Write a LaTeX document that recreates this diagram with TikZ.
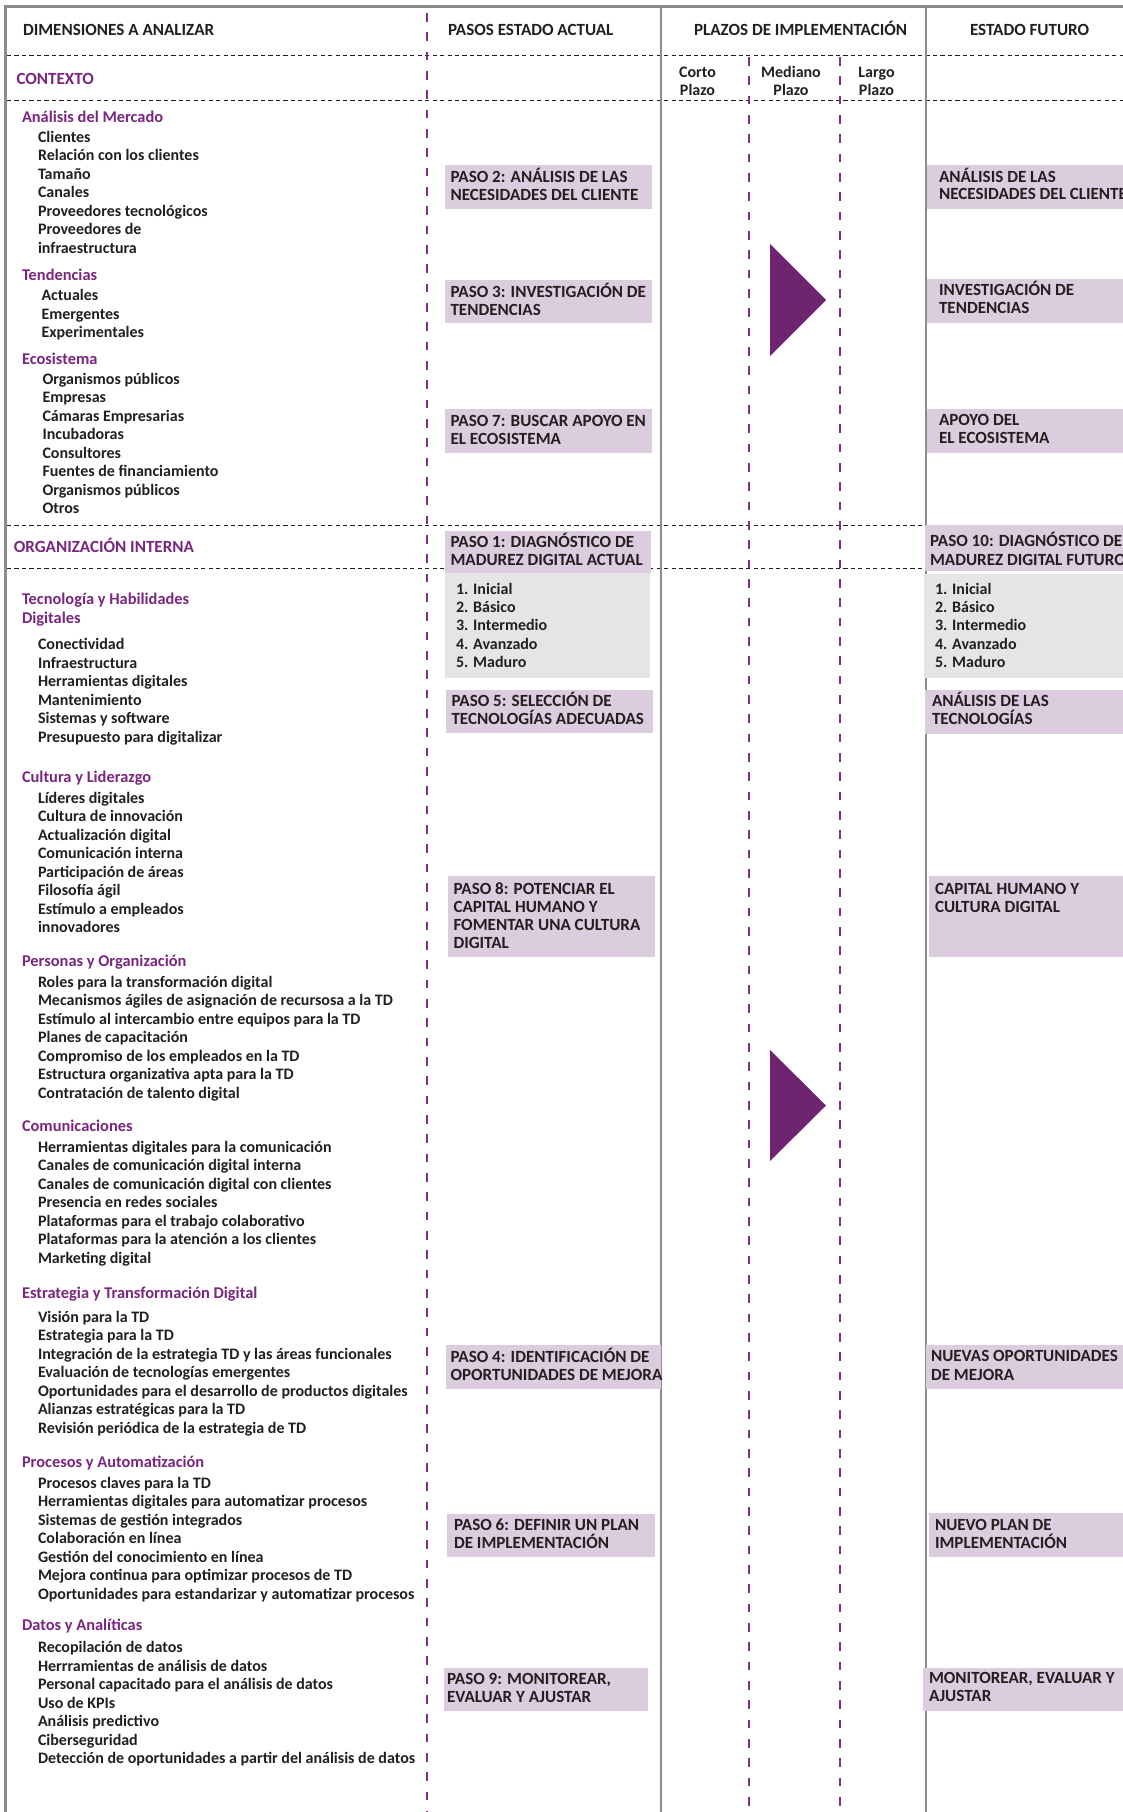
\documentclass[tikz,border=0pt]{standalone}
\usepackage{fontspec}
\setmainfont{Carlito}
\usetikzlibrary{fit}
\definecolor{ink}{RGB}{35,31,32}
\definecolor{purp}{RGB}{122,38,128}
\definecolor{tri}{RGB}{111,36,112}
\definecolor{dpurp}{RGB}{128,48,132}
\definecolor{lilac}{RGB}{220,205,222}
\definecolor{lgray}{RGB}{229,229,229}
\definecolor{framec}{RGB}{140,140,140}
\newcommand\fs{\fontsize{12}{14}\selectfont\bfseries}
\newcommand\fh{\fontsize{12.3}{14}\selectfont\bfseries}
\newcommand\fu{\fontsize{12.8}{14}\selectfont\bfseries}
\begin{document}
\begin{tikzpicture}[x=0.75pt,y=-0.75pt,
  every node/.style={inner sep=0pt, outer sep=0pt},
  tx/.style={anchor=base west, font=\fs, text=ink},
  bt/.style={anchor=base west, font=\fu, text=ink},
  hd/.style={anchor=base west, font=\fh, text=purp},
  hu/.style={anchor=base west, font=\fu, text=purp},
  ctr/.style={anchor=base, font=\fs, text=ink},
  pbox/.style={fill=lilac, draw=none, inner sep=0pt},
  gbox/.style={fill=lgray, draw=none, inner sep=0pt},
  gline/.style={draw=framec, line width=1.5pt},
  fline/.style={draw=framec, line width=2.25pt},
  pdash/.style={draw=dpurp, line width=1.5pt, dash pattern=on 6.6pt off 7.9pt},
  kdash/.style={draw=ink, line width=0.75pt, dash pattern=on 3.2pt off 2.4pt}]
\useasboundingbox (0,0) rectangle (1123,1812);
\clip (0,0) rectangle (1123,1812);
\fill[white] (0,0) rectangle (1123,1812);
% horizontal dashed lines
\draw[kdash] (7,55.5) -- (1123,55.5);
\draw[kdash] (7,100.5) -- (1123,100.5);
\draw[kdash] (7,525.5) -- (925,525.5);
\draw[kdash] (7,568.5) -- (925,568.5);
% frame and column lines
\draw[fline] (5.5,1812) -- (5.5,7) -- (1123,7);
\draw[gline] (661,7) -- (661,1812);
\draw[gline] (925.5,7) -- (925.5,1812);
\draw[pdash] (427,13) -- (427,1812);
\draw[pdash] (749,57) -- (749,1812);
\draw[pdash] (839.5,57) -- (839.5,1812);
% headers
\node[bt] (h1) at (23,36) {DIMENSIONES A ANALIZAR};
\node[bt] (h2) at (448,36) {PASOS ESTADO ACTUAL};
\node[bt] (h3) at (694,36) {PLAZOS DE IMPLEMENTACIÓN};
\node[bt] (h4) at (970,36) {ESTADO FUTURO};
\node[hu] (ctx) at (16.5,84.3) {CONTEXTO};
\node[ctr] (c1) at (697.5,77.3) {Corto};
\node[ctr] (c2) at (697.5,95.7) {Plazo};
\node[ctr] (m1) at (791,77.3) {Mediano};
\node[ctr] (m2) at (791,95.7) {Plazo};
\node[ctr] (l1) at (876.5,77.3) {Largo};
\node[ctr] (l2) at (876.5,95.7) {Plazo};
\node[hu] (org) at (13.8,552) {ORGANIZACIÓN INTERNA};
% left list
\node[hd] (ga) at (22,122.8) {Análisis del Mercado};
\foreach \t [count=\i from 0] in {Clientes,Relación con los clientes,Tamaño,Canales,Proveedores tecnológicos,Proveedores de,infraestructura}
  \node[tx] (ma\i) at (38,{142.5+18.5*\i}) {\t};
\node[hd] (gb) at (22,281) {Tendencias};
\foreach \t [count=\i from 0] in {Actuales,Emergentes,Experimentales}
  \node[tx] (mb\i) at (41.5,{300.8+18.5*\i}) {\t};
\node[hd] (gc) at (22,364.3) {Ecosistema};
\foreach \t [count=\i from 0] in {Organismos públicos,Empresas,Cámaras Empresarias,Incubadoras,Consultores,Fuentes de financiamiento,Organismos públicos,Otros}
  \node[tx] (mc\i) at (42.5,{384+18.5*\i}) {\t};
\node[hd] (gd) at (22,604.6) {Tecnología y Habilidades};
\node[hd] (gd2) at (22,623) {Digitales};
\foreach \t [count=\i from 0] in {Conectividad,Infraestructura,Herramientas digitales,Mantenimiento,Sistemas y software,Presupuesto para digitalizar}
  \node[tx] (md\i) at (38,{649.6+18.5*\i}) {\t};
\node[hd] (ge) at (22,782.5) {Cultura y Liderazgo};
\foreach \t [count=\i from 0] in {Líderes digitales,Cultura de innovación,Actualización digital,Comunicación interna,Participación de áreas,Filosofía ágil,Estímulo a empleados,innovadores}
  \node[tx] (me\i) at (38,{803.3+18.5*\i}) {\t};
\node[hd] (gf) at (22,966.2) {Personas y Organización};
\foreach \t [count=\i from 0] in {Roles para la transformación digital,Mecanismos ágiles de asignación de recursosa a la TD,Estímulo al intercambio entre equipos para la TD,Planes de capacitación,Compromiso de los empleados en la TD,Estructura organizativa apta para la TD,Contratación de talento digital}
  \node[tx] (mf\i) at (38,{987+18.5*\i}) {\t};
\node[hd] (gg) at (22,1131.4) {Comunicaciones};
\foreach \t [count=\i from 0] in {Herramientas digitales para la comunicación,Canales de comunicación digital interna,Canales de comunicación digital con clientes,Presencia en redes sociales,Plataformas para el trabajo colaborativo,Plataformas para la atención a los clientes,Marketing digital}
  \node[tx] (mg\i) at (38,{1152.2+18.5*\i}) {\t};
\node[hd] (gh) at (22,1298.9) {Estrategia y Transformación Digital};
\foreach \t [count=\i from 0] in {Visión para la TD,Estrategia para la TD,Integración de la estrategia TD y las áreas funcionales,Evaluación de tecnologías emergentes,Oportunidades para el desarrollo de productos digitales,Alianzas estratégicas para la TD,Revisión periódica de la estrategia de TD}
  \node[tx] (mh\i) at (38,{1322+18.5*\i}) {\t};
\node[hd] (gi) at (22,1467.6) {Procesos y Automatización};
\foreach \t [count=\i from 0] in {Procesos claves para la TD,Herramientas digitales para automatizar procesos,Sistemas de gestión integrados,Colaboración en línea,Gestión del conocimiento en línea,Mejora continua para optimizar procesos de TD,Oportunidades para estandarizar y automatizar procesos}
  \node[tx] (mi\i) at (38,{1488.4+18.5*\i}) {\t};
\node[hd] (gj) at (22,1630.5) {Datos y Analíticas};
\foreach \t [count=\i from 0] in {Recopilación de datos,Herrramientas de análisis de datos,Personal capacitado para el análisis de datos,Uso de KPIs,Análisis predictivo,Ciberseguridad,Detección de oportunidades a partir del análisis de datos}
  \node[tx] (mj\i) at (38,{1652.5+18.5*\i}) {\t};
% current-state boxes
\node[pbox, fit={(445,165) (651.5,209)}] (p2) {};
\node[bt] at (450.5,182.5) {PASO 2: ANÁLISIS DE LAS};
\node[bt] at (450.5,200.5) {NECESIDADES DEL CLIENTE};
\node[pbox, fit={(445,279.5) (651.5,322.5)}] (p3) {};
\node[bt] at (450.5,297) {PASO 3: INVESTIGACIÓN DE};
\node[bt] at (450.5,315) {TENDENCIAS};
\node[pbox, fit={(445,409) (651.5,452.5)}] (p7) {};
\node[bt] at (450.5,426.5) {PASO 7: BUSCAR APOYO EN};
\node[bt] at (450.5,444.5) {EL ECOSISTEMA};
\node[pbox, fit={(445,530.5) (651,573)}] (p1) {};
\node[bt] at (450.5,547) {PASO 1: DIAGNÓSTICO DE};
\node[bt] at (450.5,565) {MADUREZ DIGITAL ACTUAL};
\node[gbox, fit={(445,573) (649.5,677.5)}] (p1l) {};
\foreach \t [count=\i from 0] in {1. Inicial,2. Básico,3. Intermedio,4. Avanzado,5. Maduro}
  \node[tx] (pl\i) at (456,{594+18.4*\i}) {\t};
\node[pbox, fit={(446,690) (652.5,733)}] (p5) {};
\node[bt] at (451.5,706.5) {PASO 5: SELECCIÓN DE};
\node[bt] at (451.5,724.5) {TECNOLOGÍAS ADECUADAS};
\node[pbox, fit={(447.5,875.7) (654.5,957.3)}] (p8) {};
\node[bt] at (453.5,894) {PASO 8: POTENCIAR EL};
\node[bt] at (453.5,912.3) {CAPITAL HUMANO Y};
\node[bt] at (453.5,930.6) {FOMENTAR UNA CULTURA};
\node[bt] at (453.5,948.9) {DIGITAL};
\node[pbox, fit={(446,1345) (661,1389)}] (p4) {};
\node[bt] at (450.5,1362) {PASO 4: IDENTIFICACIÓN DE};
\node[bt] at (450.5,1380) {OPORTUNIDADES DE MEJORA};
\node[pbox, fit={(447,1513.5) (654.5,1556.5)}] (p6) {};
\node[bt] at (454,1530.5) {PASO 6: DEFINIR UN PLAN};
\node[bt] at (454,1548.5) {DE IMPLEMENTACIÓN};
\node[pbox, fit={(443.5,1667.5) (647.5,1711)}] (p9) {};
\node[bt] at (447,1684) {PASO 9: MONITOREAR,};
\node[bt] at (447,1702) {EVALUAR Y AJUSTAR};
% future-state boxes
\node[pbox, fit={(927,165) (1130,209)}] (f2) {};
\node[bt] at (939,182.3) {ANÁLISIS DE LAS};
\node[bt] at (939,200) {NECESIDADES DEL CLIENTE};
\node[pbox, fit={(927,279) (1130,322.7)}] (f3) {};
\node[bt] at (939,296) {INVESTIGACIÓN DE};
\node[bt] at (939,313.3) {TENDENCIAS};
\node[pbox, fit={(927,408.7) (1130,452.7)}] (f7) {};
\node[bt] at (939,425) {APOYO DEL};
\node[bt] at (939,443.3) {EL ECOSISTEMA};
\node[pbox, fit={(925,525) (1130,571)}] (f10) {};
\node[bt] at (930,546.7) {PASO 10: DIAGNÓSTICO DE};
\node[bt] at (930,565) {MADUREZ DIGITAL FUTURO};
\node[gbox, fit={(924,574) (1130,677.7)}] (f10l) {};
\foreach \t [count=\i from 0] in {1. Inicial,2. Básico,3. Intermedio,4. Avanzado,5. Maduro}
  \node[tx] (fl\i) at (935,{594+18.4*\i}) {\t};
\node[pbox, fit={(925,690) (1130,734)}] (f5) {};
\node[bt] at (932,706.5) {ANÁLISIS DE LAS};
\node[bt] at (932,724.5) {TECNOLOGÍAS};
\node[pbox, fit={(929.3,875.7) (1130,957.3)}] (f8) {};
\node[bt] at (935,894.3) {CAPITAL HUMANO Y};
\node[bt] at (935,912) {CULTURA DIGITAL};
\node[pbox, fit={(926,1345) (1130,1389)}] (f4) {};
\node[bt] at (931,1361.7) {NUEVAS OPORTUNIDADES};
\node[bt] at (931,1380) {DE MEJORA};
\node[pbox, fit={(928.6,1513) (1130,1557)}] (f6) {};
\node[bt] at (935,1530) {NUEVO PLAN DE};
\node[bt] at (935,1548.3) {IMPLEMENTACIÓN};
\node[pbox, fit={(922.5,1667.7) (1130,1711)}] (f9) {};
\node[bt] at (929,1683.3) {MONITOREAR, EVALUAR Y};
\node[bt] at (929,1701.7) {AJUSTAR};
% arrows (triangles)
\fill[tri] (770,244) -- (770,356) -- (826,300) -- cycle;
\fill[tri] (770,1050) -- (770,1161) -- (826,1105.5) -- cycle;
\end{tikzpicture}
\end{document}
